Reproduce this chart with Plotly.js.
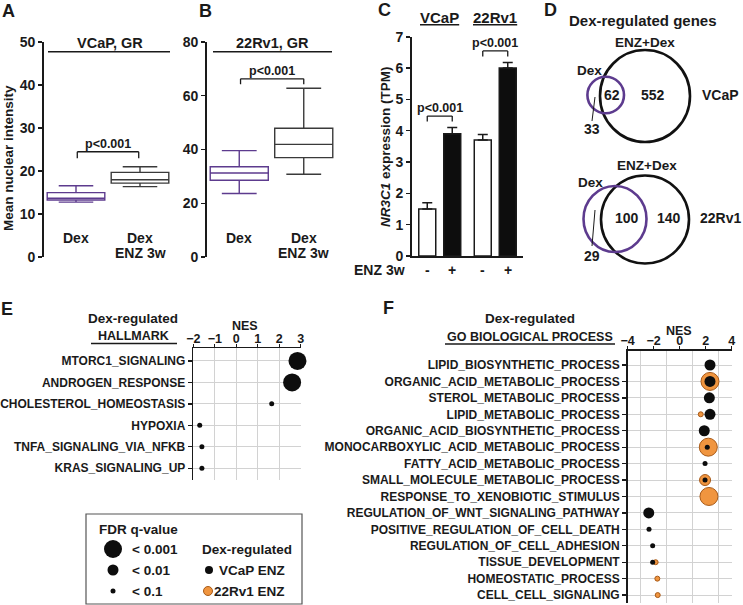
<!DOCTYPE html>
<html><head><meta charset="utf-8">
<script src="https://cdn.plot.ly/plotly-3.0.1.min.js"></script>
<style>html,body{margin:0;padding:0;background:#fff}#chart{width:743px;height:605px}</style>
</head><body><div id="chart"></div>
<script>
// ================= DATA =================
// Panel A: VCaP, GR mean nuclear intensity (box statistics)
const boxGroups = ['Dex', 'Dex ENZ 3w'];
const vcapLo  = [12.8, 16.4];
const vcapQ1  = [13.3, 17.2];
const vcapMed = [13.7, 18.0];
const vcapQ3  = [15.0, 19.7];
const vcapHi  = [16.6, 21.0];
// Panel B: 22Rv1, GR
const rv1Lo  = [23.7, 30.8];
const rv1Q1  = [28.6, 37.0];
const rv1Med = [31.3, 41.9];
const rv1Q3  = [33.6, 47.9];
const rv1Hi  = [39.6, 62.7];
const pLabel = 'p&lt;0.001';
// Panel C: NR3C1 expression (TPM)
const cellLines = ['VCaP', '22Rv1'];
const tpmNoEnz = [1.5, 3.7];
const tpmNoEnzErr = [0.2, 0.18];
const tpmEnz = [3.9, 6.0];
const tpmEnzErr = [0.2, 0.18];
// Panel D: Venn counts
const vennCells = ['VCaP', '22Rv1'];
const vennDexOnly = [33, 29];
const vennBoth = [62, 100];
const vennEnzOnly = [552, 140];
// Panel E: HALLMARK
const hallmarkTerms = ['MTORC1_SIGNALING', 'ANDROGEN_RESPONSE', 'CHOLESTEROL_HOMEOSTASIS', 'HYPOXIA', 'TNFA_SIGNALING_VIA_NFKB', 'KRAS_SIGNALING_UP'];
const hallmarkNES = [2.85, 2.6, 1.65, -1.7, -1.6, -1.6];
const hallmarkFDR = ['<0.001', '<0.001', '<0.1', '<0.1', '<0.1', '<0.1'];
// Panel F: GO biological process
const goTerms = ['LIPID_BIOSYNTHETIC_PROCESS', 'ORGANIC_ACID_METABOLIC_PROCESS', 'STEROL_METABOLIC_PROCESS', 'LIPID_METABOLIC_PROCESS',
  'ORGANIC_ACID_BIOSYNTHETIC_PROCESS', 'MONOCARBOXYLIC_ACID_METABOLIC_PROCESS', 'FATTY_ACID_METABOLIC_PROCESS', 'SMALL_MOLECULE_METABOLIC_PROCESS',
  'RESPONSE_TO_XENOBIOTIC_STIMULUS', 'REGULATION_OF_WNT_SIGNALING_PATHWAY', 'POSITIVE_REGULATION_OF_CELL_DEATH', 'REGULATION_OF_CELL_ADHESION',
  'TISSUE_DEVELOPMENT', 'HOMEOSTATIC_PROCESS', 'CELL_CELL_SIGNALING'];
const goVcapNES = [2.33, 2.33, 2.28, 2.33, 1.89, 2.12, 1.95, 1.95, null, -2.38, -2.36, -2.08, -2.08, null, null];
const goVcapFDR = ['<0.01', '<0.01', '<0.01', '<0.01', '<0.01', '<0.1', '<0.1', '<0.1', null, '<0.01', '<0.1', '<0.1', '<0.1', null, null];
const go22NES = [null, 2.33, null, 1.62, null, 2.2, null, 1.95, 2.25, null, null, null, -1.85, -1.72, -1.69];
const go22FDR = [null, '<0.001', null, '<0.1', null, '<0.001', null, '<0.01', '<0.001', null, null, null, '<0.1', '<0.1', '<0.1'];
const fdrLevels = ['< 0.001', '< 0.01', '< 0.1'];
const seriesNames = ['VCaP ENZ', '22Rv1 ENZ'];

// ================= STYLE / GEOMETRY =================
const W = 743, H = 605;
const px = x => x / W, py = y => 1 - y / H;
const FONT = 'Liberation Sans, Arial, Helvetica, sans-serif';
const INK = '#1a1a1a';
const PURPLE = '#5d3b8e';
const GREY = '#3a3a3a';
const ORANGE = '#f0953f', ORANGE_LINE = '#a85a18';
const GRID = '#d2d2d2';
const fdrSize = {'<0.001': 18, '<0.01': 11, '<0.1': 5};
const sizeOf = f => (f ? fdrSize[f] : 0);

const dom = {
  A: {x: [44, 172], y: [41.7, 257.3]},
  B: {x: [207, 336], y: [41.7, 257.3]},
  C: {x: [412, 523], y: [36.7, 256]},
  E: {x: [193.3, 300.7], y: [348.3, 480]},
  F: {x: [627.7, 731.7], y: [350.7, 603.3]}
};
const xd = d => [px(d.x[0]), px(d.x[1])];
const yd = d => [py(d.y[1]), py(d.y[0])];
const ppu = (d, span) => (d.y[1] - d.y[0]) / span;

function tf(size) { return {family: FONT, size: size, color: INK, weight: 'bold'}; }
function ann(text, x, y, size, o) {
  return Object.assign({text: text, x: px(x), y: py(y), xref: 'paper', yref: 'paper', showarrow: false,
    xanchor: 'center', yanchor: 'middle', font: tf(size)}, o || {});
}
function pline(x0, y0, x1, y1, w, c) {
  return {type: 'line', xref: 'paper', yref: 'paper', x0: px(x0), y0: py(y0), x1: px(x1), y1: py(y1), line: {color: c || INK, width: w}};
}
function ell(cx, cy, rx, ry, c, w) {
  return {type: 'circle', xref: 'paper', yref: 'paper', x0: px(cx - rx), x1: px(cx + rx), y0: py(cy + ry), y1: py(cy - ry),
    line: {color: c, width: w}, fillcolor: 'rgba(0,0,0,0)'};
}
function dot(cx, cy, d, fill, lc) {
  const r = d / 2;
  return {type: 'circle', xref: 'paper', yref: 'paper', x0: px(cx - r), x1: px(cx + r), y0: py(cy + r), y1: py(cy - r),
    line: {color: lc || fill, width: lc ? 1 : 0}, fillcolor: fill};
}
function bracket(xr, yr, x0, x1, yb, yt) {
  const s = {type: 'line', xref: xr, yref: yr, line: {color: INK, width: 1.3}};
  return [Object.assign({}, s, {x0: x0, x1: x0, y0: yb, y1: yt}),
          Object.assign({}, s, {x0: x0, x1: x1, y0: yt, y1: yt}),
          Object.assign({}, s, {x0: x1, x1: x1, y0: yb, y1: yt})];
}

// ================= TRACES =================
const traces = [];
function boxTrace(i, lo, q1, med, q3, hi, color, xa, ya) {
  return {type: 'box', x: [boxGroups[i]], lowerfence: [lo[i]], q1: [q1[i]], median: [med[i]], q3: [q3[i]], upperfence: [hi[i]],
    xaxis: xa, yaxis: ya, width: 0.9, whiskerwidth: 0.6, fillcolor: '#ffffff', line: {color: color, width: 1.4},
    boxpoints: false, hoverinfo: 'skip', showlegend: false};
}
traces.push(boxTrace(0, vcapLo, vcapQ1, vcapMed, vcapQ3, vcapHi, PURPLE, 'x', 'y'));
traces.push(boxTrace(1, vcapLo, vcapQ1, vcapMed, vcapQ3, vcapHi, GREY, 'x', 'y'));
traces.push(boxTrace(0, rv1Lo, rv1Q1, rv1Med, rv1Q3, rv1Hi, PURPLE, 'x2', 'y2'));
traces.push(boxTrace(1, rv1Lo, rv1Q1, rv1Med, rv1Q3, rv1Hi, GREY, 'x2', 'y2'));

traces.push({type: 'bar', x: cellLines, y: tpmNoEnz, xaxis: 'x3', yaxis: 'y3', showlegend: false, hoverinfo: 'skip',
  marker: {color: '#ffffff', line: {color: INK, width: 1.5}},
  error_y: {type: 'data', symmetric: false, array: tpmNoEnzErr, arrayminus: tpmNoEnzErr.map(() => 0), color: INK, thickness: 1.5, width: 5}});
traces.push({type: 'bar', x: cellLines, y: tpmEnz, xaxis: 'x3', yaxis: 'y3', showlegend: false, hoverinfo: 'skip',
  marker: {color: '#0d0d0d', line: {color: INK, width: 1.5}},
  error_y: {type: 'data', symmetric: false, array: tpmEnzErr, arrayminus: tpmEnzErr.map(() => 0), color: INK, thickness: 1.5, width: 5}});

traces.push({type: 'scatter', mode: 'markers', x: hallmarkNES, y: hallmarkTerms, xaxis: 'x4', yaxis: 'y4', showlegend: false, hoverinfo: 'skip',
  marker: {color: '#0d0d0d', opacity: 1, size: hallmarkFDR.map(sizeOf), line: {width: 0}}, cliponaxis: false});
traces.push({type: 'scatter', mode: 'markers', x: go22NES, y: goTerms, xaxis: 'x5', yaxis: 'y5', showlegend: false, hoverinfo: 'skip',
  marker: {color: ORANGE, opacity: 1, size: go22FDR.map(sizeOf), line: {width: 1, color: ORANGE_LINE}}, cliponaxis: false});
traces.push({type: 'scatter', mode: 'markers', x: goVcapNES, y: goTerms, xaxis: 'x5', yaxis: 'y5', showlegend: false, hoverinfo: 'skip',
  marker: {color: '#0d0d0d', opacity: 1, size: goVcapFDR.map(sizeOf), line: {width: 0}}, cliponaxis: false});

// ================= AXES =================
const yBase = {ticks: 'outside', ticklen: 4, tickwidth: 1.6, tickcolor: INK, showline: true, linewidth: 1.8, linecolor: INK,
  showgrid: false, zeroline: false, tickfont: tf(14), fixedrange: true};
const layout = {
  width: W, height: H, margin: {l: 0, r: 0, t: 0, b: 0}, paper_bgcolor: '#fff', plot_bgcolor: 'rgba(0,0,0,0)',
  font: {family: FONT, color: INK}, showlegend: false, barmode: 'group', bargap: 0.1, bargroupgap: 0.32, boxmode: 'overlay',
  xaxis:  {domain: xd(dom.A), anchor: 'y', type: 'category', range: [-0.5, 1.5], showticklabels: false, showline: false, ticks: '', showgrid: false, zeroline: false},
  yaxis:  Object.assign({}, yBase, {domain: yd(dom.A), anchor: 'x', range: [0, 50], dtick: 10}),
  xaxis2: {domain: xd(dom.B), anchor: 'y2', type: 'category', range: [-0.5, 1.5], showticklabels: false, showline: false, ticks: '', showgrid: false, zeroline: false},
  yaxis2: Object.assign({}, yBase, {domain: yd(dom.B), anchor: 'x2', range: [0, 80], dtick: 20}),
  xaxis3: {domain: xd(dom.C), anchor: 'y3', type: 'category', range: [-0.5, 1.5], showticklabels: false, showline: true, linewidth: 1.8, linecolor: INK, ticks: '', showgrid: false, zeroline: false},
  yaxis3: Object.assign({}, yBase, {domain: yd(dom.C), anchor: 'x3', range: [0, 7], dtick: 1}),
  xaxis4: {domain: xd(dom.E), anchor: 'y4', side: 'top', range: [-2, 3], dtick: 1, ticks: 'outside', ticklen: 3, tickwidth: 1.3, tickcolor: INK,
    ticklabelstandoff: -4,
    showline: true, linewidth: 1.6, linecolor: INK, showgrid: true, gridcolor: GRID, gridwidth: 1, zeroline: false, tickfont: tf(12.5)},
  yaxis4: {domain: yd(dom.E), anchor: 'x4', type: 'category', categoryorder: 'array', categoryarray: hallmarkTerms, range: [5.55, -0.59],
    ticks: 'outside', ticklen: 4, tickwidth: 1.3, tickcolor: INK, showline: true, linewidth: 1.6, linecolor: INK,
    showgrid: true, gridcolor: GRID, gridwidth: 1, zeroline: false, tickfont: tf(12)},
  xaxis5: {domain: xd(dom.F), anchor: 'y5', side: 'top', range: [-4, 4], tickvals: [-4, -2, 0, 2, 4], ticks: 'outside', ticklen: 3, tickwidth: 1.3, tickcolor: INK,
    ticklabelstandoff: -4,
    showline: true, linewidth: 1.6, linecolor: INK, showgrid: false, zeroline: false, tickfont: tf(12.5),
    minor: {tickvals: [-3, -1, 1, 3], showgrid: true, gridcolor: GRID, gridwidth: 1, ticks: ''}},
  yaxis5: {domain: yd(dom.F), anchor: 'x5', type: 'category', categoryorder: 'array', categoryarray: goTerms, range: [14.5, -0.87],
    ticks: 'outside', ticklen: 4, tickwidth: 1.3, tickcolor: INK, showline: true, linewidth: 1.6, linecolor: INK,
    showgrid: true, gridcolor: GRID, gridwidth: 1, zeroline: false, tickfont: tf(12)}
};

// ================= SHAPES & ANNOTATIONS =================
const shapes = [], annotations = [];
// panel letters
[['A', 8, 11], ['B', 205, 11], ['C', 384, 10], ['D', 550, 10], ['E', 7, 309], ['F', 388, 308]].forEach(p =>
  annotations.push(ann(p[0], p[1], p[2], 18)));

// A / B titles with rule
annotations.push(ann('VCaP, GR', 110, 43, 14.5));
shapes.push(pline(48, 51.7, 170, 51.7, 1.6));
annotations.push(ann('22Rv1, GR', 272, 43, 14.5));
shapes.push(pline(213, 51.7, 332, 51.7, 1.6));
annotations.push(ann('Mean nuclear intensity', 8, 158, 13.5, {textangle: -90}));

// group labels under boxes
[['x', 'y'], ['x2', 'y2']].forEach(r => {
  annotations.push({text: 'Dex', xref: r[0], yref: 'paper', x: 0, y: py(238), showarrow: false, font: tf(14), xanchor: 'center', yanchor: 'middle'});
  annotations.push({text: 'Dex', xref: r[0], yref: 'paper', x: 1, y: py(238), showarrow: false, font: tf(14), xanchor: 'center', yanchor: 'middle'});
  annotations.push({text: 'ENZ 3w', xref: r[0], yref: 'paper', x: 1, y: py(253), showarrow: false, font: tf(14), xanchor: 'center', yanchor: 'middle'});
});

// p-value brackets A and B
(function () {
  const kA = ppu(dom.A, 50), kB = ppu(dom.B, 80);
  const ybA = Math.max(...vcapHi) + 8.5 / kA, ytA = ybA + 6.5 / kA;
  bracket('x', 'y', 0.02, 0.98, ybA, ytA).forEach(s => shapes.push(s));
  annotations.push({text: pLabel, xref: 'x', yref: 'y', x: 0.5, y: ytA, yanchor: 'bottom', showarrow: false, font: tf(12.5), yshift: -1});
  const ybB = Math.max(...rv1Hi) + 4 / kB, ytB = ybB + 5.5 / kB;
  bracket('x2', 'y2', 0.02, 1.0, ybB, ytB).forEach(s => shapes.push(s));
  annotations.push({text: pLabel, xref: 'x2', yref: 'y2', x: 0.5, y: ytB, yanchor: 'bottom', showarrow: false, font: tf(12.5), yshift: -1});
})();

// Panel C extras
(function () {
  const catPx = (dom.C.x[1] - dom.C.x[0]) / 2;
  const off = (1 - layout.bargap) / 4;           // bar centre offset in category units
  const offPx = off * catPx;
  const kC = ppu(dom.C, 7);
  cellLines.forEach((c, i) => {
    annotations.push({text: '<u>' + c + '</u>', xref: 'x3', yref: 'paper', x: i, y: py(18), showarrow: false, font: tf(15), xanchor: 'center', yanchor: 'middle'});
    annotations.push({text: '-', xref: 'x3', yref: 'paper', x: i, xshift: -offPx, y: py(270), showarrow: false, font: tf(14), xanchor: 'center', yanchor: 'middle'});
    annotations.push({text: '+', xref: 'x3', yref: 'paper', x: i, xshift: offPx, y: py(270), showarrow: false, font: tf(14), xanchor: 'center', yanchor: 'middle'});
    const top = Math.max(tpmNoEnz[i] + tpmNoEnzErr[i], tpmEnz[i] + tpmEnzErr[i]);
    const yb = top + 6 / kC, yt = yb + 5.5 / kC;
    bracket('x3', 'y3', i - off, i + off, yb, yt).forEach(s => shapes.push(s));
    annotations.push({text: pLabel, xref: 'x3', yref: 'y3', x: i, y: yt, yanchor: 'bottom', showarrow: false, font: tf(12.5), yshift: -1});
  });
  annotations.push(ann('ENZ 3w', 407, 270, 14, {xanchor: 'right'}));
  annotations.push(ann('<i>NR3C1</i> expression (TPM)', 385, 147, 13.5, {textangle: -90}));
})();

// Panel D Venn diagrams
annotations.push(ann('Dex-regulated genes', 643, 20, 15));
(function () {
  const venn = [
    {big: [645, 96, 45, 46], small: [605.7, 95, 18.3, 18.3], enz: [645, 42], dex: [589, 70], both: [612, 95], only: [652.5, 95], cell: [741, 95],
     dexOnly: [592, 129], lead: [595, 97, 592, 121]},
    {big: [645, 219.5, 44, 44], small: [615, 219, 31.5, 33], enz: [646.5, 165], dex: [590, 182], both: [627, 218.5], only: [669, 218.5], cell: [743, 218.5],
     dexOnly: [592, 256], lead: [595, 210, 592, 246]}
  ];
  venn.forEach((v, i) => {
    shapes.push(ell(v.big[0], v.big[1], v.big[2], v.big[3], '#111', 2.6));
    shapes.push(ell(v.small[0], v.small[1], v.small[2], v.small[3], PURPLE, 2.6));
    shapes.push(pline(v.lead[0], v.lead[1], v.lead[2], v.lead[3], 1));
    annotations.push(ann('ENZ+Dex', v.enz[0], v.enz[1], 13.5));
    annotations.push(ann('Dex', v.dex[0], v.dex[1], 13.5));
    annotations.push(ann(String(vennBoth[i]), v.both[0], v.both[1], 14));
    annotations.push(ann(String(vennEnzOnly[i]), v.only[0], v.only[1], 14));
    annotations.push(ann(vennCells[i], v.cell[0], v.cell[1], 14, {xanchor: 'right'}));
    annotations.push(ann(String(vennDexOnly[i]), v.dexOnly[0], v.dexOnly[1], 14));
  });
})();

// Panel E / F headers
annotations.push(ann('Dex-regulated', 133, 318, 13.5));
annotations.push(ann('HALLMARK', 133, 336, 12.5));
shapes.push(pline(91, 343.5, 177, 343.5, 1.4));
annotations.push(ann('NES', 245, 326, 12.5));
annotations.push(ann('Dex-regulated', 530, 318, 13.5));
annotations.push(ann('GO BIOLOGICAL PROCESS', 530, 337, 12.5));
shapes.push(pline(445, 344, 615, 344, 1.4));
annotations.push(ann('NES', 679, 331, 12.5));

// Legend box
shapes.push({type: 'rect', xref: 'paper', yref: 'paper', x0: px(86), x1: px(302), y0: py(604), y1: py(514), line: {color: '#555', width: 1.2}, fillcolor: 'rgba(0,0,0,0)'});
annotations.push(ann('FDR q-value', 97, 529, 13.5, {xanchor: 'left'}));
const legRows = [549, 570, 591];
Object.keys(fdrSize).forEach((k, i) => {
  shapes.push(dot(113, legRows[i], fdrSize[k], '#0d0d0d'));
  annotations.push(ann(fdrLevels[i], 130, legRows[i], 13.5, {xanchor: 'left'}));
});
annotations.push(ann('Dex-regulated', 200, 549, 13.5, {xanchor: 'left'}));
shapes.push(dot(209, 570, 8, '#0d0d0d'));
annotations.push(ann(seriesNames[0], 217, 570, 13.5, {xanchor: 'left'}));
shapes.push(dot(208, 591, 9, ORANGE, ORANGE_LINE));
annotations.push(ann(seriesNames[1], 212, 591, 13.5, {xanchor: 'left'}));

layout.shapes = shapes;
layout.annotations = annotations;

Plotly.newPlot('chart', traces, layout, {staticPlot: true, displayModeBar: false});
</script>
</body></html>
